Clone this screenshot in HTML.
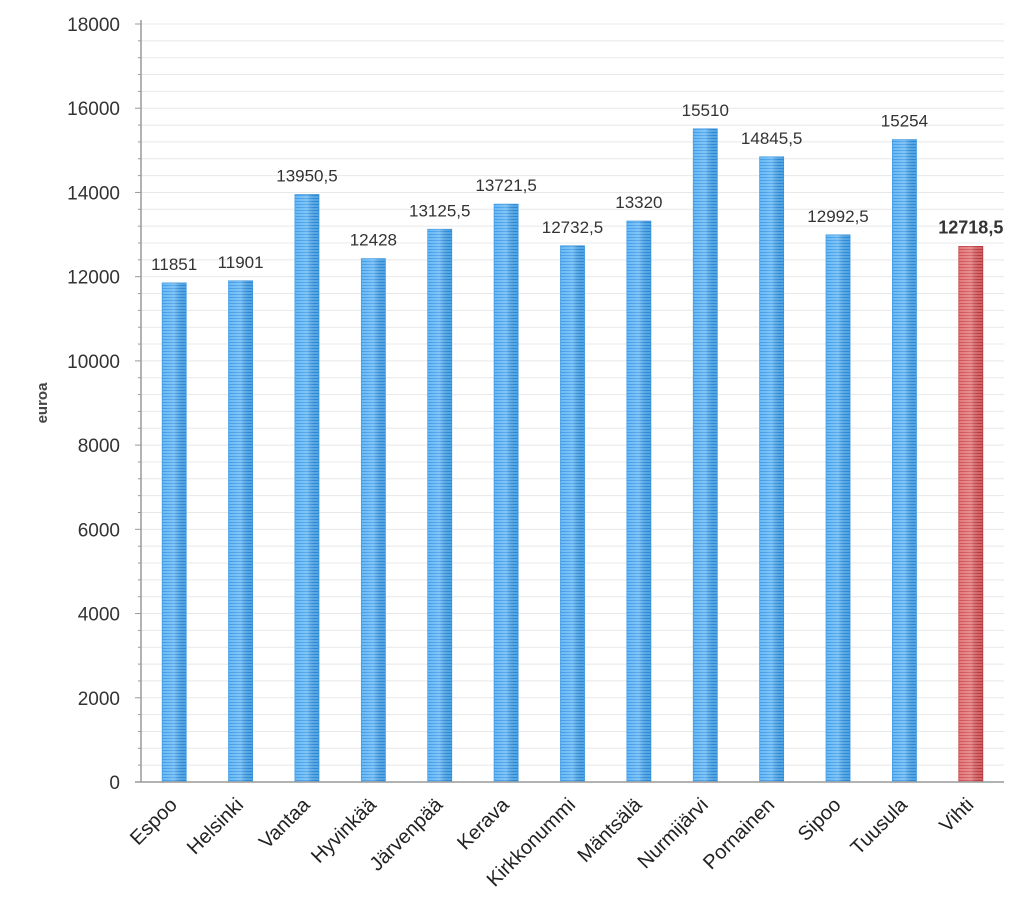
<!DOCTYPE html>
<html><head><meta charset="utf-8"><style>body{margin:0;background:#fff}svg{display:block;font-family:"Liberation Sans",sans-serif}</style></head>
<body>
<svg id="c" width="1024" height="917" viewBox="0 0 1024 917">
<defs>
<pattern id="pb" width="4" height="3" patternUnits="userSpaceOnUse"><rect width="4" height="3" fill="#58b2f4"/><rect width="4" height="1" fill="#2a90e6"/></pattern>
<linearGradient id="gb" x1="0" x2="1"><stop offset="0" stop-color="#fff" stop-opacity="0.1"/><stop offset="0.5" stop-color="#fff" stop-opacity="0.25"/><stop offset="1" stop-color="#000" stop-opacity="0.05"/></linearGradient>
<pattern id="pr" width="4" height="3" patternUnits="userSpaceOnUse"><rect width="4" height="3" fill="#e06a6e"/><rect width="4" height="1" fill="#c83c40"/></pattern>
</defs>
<g id="grid"></g><g id="bars"></g><g id="axes"></g>
</svg>
<script>
const categories=["Espoo","Helsinki","Vantaa","Hyvinkää","Järvenpää","Kerava","Kirkkonummi","Mäntsälä","Nurmijärvi","Pornainen","Sipoo","Tuusula","Vihti"];
const values=[11851,11901,13950.5,12428,13125.5,13721.5,12732.5,13320,15510,14845.5,12992.5,15254,12718.5];
const valueLabels=["11851","11901","13950,5","12428","13125,5","13721,5","12732,5","13320","15510","14845,5","12992,5","15254","12718,5"];
const yTicks=[0,2000,4000,6000,8000,10000,12000,14000,16000,18000];
const NS="http://www.w3.org/2000/svg";
const x0=141,x1=1004,y0=782,y1=24,yMax=18000;
const band=(x1-x0)/categories.length;
const ys=v=>y0-(v/yMax)*(y0-y1);
const xc=i=>x0+band*(i+0.5);
function mk(t,a,p,txt){const e=document.createElementNS(NS,t);for(const k in a)e.setAttribute(k,a[k]);if(txt!=null)e.textContent=txt;p.appendChild(e);return e;}
const grid=document.getElementById('grid'),bars=document.getElementById('bars'),axes=document.getElementById('axes');
for(let v=0;v<=yMax;v+=400){
  const g=mk('line',{x1:x0,x2:x1,y1:ys(v),y2:ys(v),stroke:'#e8e8e8','stroke-width':1},grid);
  
  
  const t=mk('line',{x1:x0-(v%2000===0?6:3),x2:x0,y1:ys(v),y2:ys(v),stroke:'#999'},axes);
  
  
}
yTicks.forEach(v=>{
  const t=mk('text',{x:120,y:ys(v)+7,'text-anchor':'end','font-size':19,fill:'#333'},axes,String(v));
  
  
});
const yl=mk('text',{x:0,y:0,transform:'translate(47,403) rotate(-90)','text-anchor':'middle','font-size':15,'font-weight':'bold',fill:'#444'},axes,'euroa');


const ax=mk('line',{x1:x0,x2:x0,y1:y1-4,y2:y0,stroke:'#999','stroke-width':1.5},axes);


const bx=mk('line',{x1:x0-6,x2:x1,y1:y0,y2:y0,stroke:'#999','stroke-width':1.5},axes);


categories.forEach((c,i)=>{
  const last=i===categories.length-1;
  const w=24,x=xc(i)-w/2,y=ys(values[i]);
  const b=mk('rect',{x:x,y:y,width:w,height:y0-y,fill:last?'url(#pr)':'url(#pb)',stroke:last?'#c0393d':'#3a96e0','stroke-width':0.8},bars);
  
  
  const o=mk('rect',{x:x,y:y,width:w,height:y0-y,fill:'url(#gb)'},bars);
  
  
  const vl=mk('text',{x:xc(i),y:y-13,'text-anchor':'middle','font-size':last?18:17,'font-weight':last?'bold':'normal',fill:'#333'},bars,valueLabels[i]);
  
  
  const cl=mk('text',{x:0,y:0,transform:`translate(${xc(i)+4},${y0+24}) rotate(-45)`,'text-anchor':'end','font-size':20,fill:'#222'},axes,c);
  
  
});
</script>
</body></html>
